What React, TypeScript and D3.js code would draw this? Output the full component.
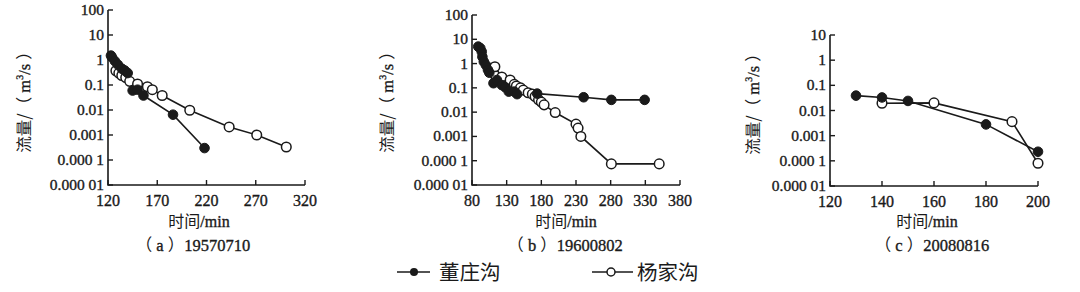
import React from "react";
import * as d3 from "d3";

// ---------- data ----------
const seriesNames = ["董庄沟", "杨家沟"];
const yTickValues = [1e-5, 1e-4, 1e-3, 1e-2, 1e-1, 1, 10, 100];
const yTickLabels = ["0.000 01", "0.000 1", "0.001", "0.01", "0.1", "1", "10", "100"];

// (a) 19570710
const aTicksX = [120, 170, 220, 270, 320];
const aDongTime = [123, 124, 127, 130, 134, 137, 140, 145, 150, 156, 186, 218];
const aDongQ = [1.5, 1.3, 0.9, 0.65, 0.45, 0.38, 0.3, 0.06, 0.065, 0.038, 0.0065, 0.0003];
const aYangTime = [128, 131, 134, 138, 142, 150, 160, 165, 175, 203, 243, 271, 301];
const aYangQ = [0.37, 0.3, 0.24, 0.2, 0.14, 0.11, 0.085, 0.065, 0.038, 0.0098, 0.0021, 0.001, 0.00033];

// (b) 19600802
const bTicksX = [80, 130, 180, 230, 280, 330, 380];
const bDongTime = [89, 92, 94, 95, 97, 100, 103, 105, 111, 116, 123, 128, 133, 141, 145, 174, 241, 281, 329];
const bDongQ = [5.0, 4.3, 3.1, 1.9, 1.2, 0.87, 0.55, 0.42, 0.155, 0.21, 0.13, 0.105, 0.07, 0.07, 0.055, 0.058, 0.041, 0.032, 0.032];
const bYangTime = [113, 123, 135, 141, 144, 150, 154, 161, 167, 171, 176, 180, 184, 200, 230, 233, 237, 281, 350];
const bYangQ = [0.74, 0.28, 0.21, 0.14, 0.12, 0.1, 0.081, 0.063, 0.055, 0.044, 0.032, 0.026, 0.02, 0.0096, 0.0032, 0.0022, 0.001, 0.000074, 0.000074];

// (c) 20080816
const cTicksX = [120, 140, 160, 180, 200];
const cDongTime = [130, 140, 150, 180, 200];
const cDongQ = [0.039, 0.033, 0.024, 0.0028, 0.00023];
const cYangTime = [140, 160, 190, 200];
const cYangQ = [0.0195, 0.02, 0.0036, 0.00008];

type Panel = {
  letter: string;
  date: string;
  xDomain: [number, number];
  xRange: [number, number];
  yDomain: [number, number];
  yRange: [number, number];
  xTicks: number[];
  dong: [number[], number[]];
  yang: [number[], number[]];
  yTitleX: number;
  yTitleY: number;
  xTitleX: number;
  captionX: number;
};

const panels: Panel[] = [
  {
    letter: "a", date: "19570710",
    xDomain: [120, 320], xRange: [108, 305],
    yDomain: [1e-5, 100], yRange: [185, 10],
    xTicks: aTicksX, dong: [aDongTime, aDongQ], yang: [aYangTime, aYangQ],
    yTitleX: 24, yTitleY: 98, xTitleX: 199, captionX: 193,
  },
  {
    letter: "b", date: "19600802",
    xDomain: [80, 380], xRange: [472, 680],
    yDomain: [1e-5, 100], yRange: [185, 15],
    xTicks: bTicksX, dong: [bDongTime, bDongQ], yang: [bYangTime, bYangQ],
    yTitleX: 387, yTitleY: 98, xTitleX: 566, captionX: 565,
  },
  {
    letter: "c", date: "20080816",
    xDomain: [120, 200], xRange: [830, 1038],
    yDomain: [1e-5, 10], yRange: [186, 35],
    xTicks: cTicksX, dong: [cDongTime, cDongQ], yang: [cYangTime, cYangQ],
    yTitleX: 753, yTitleY: 100, xTitleX: 927, captionX: 932,
  },
];

const NUM_FONT = "'Liberation Serif', serif";
const CJK = "'Noto Sans CJK SC', sans-serif";
const INK = "#1a1a1a";
const numStyle = (size: number) => ({ fontFamily: NUM_FONT, fontSize: `${size}px`, stroke: INK, strokeWidth: 0.35 });
const cjkStyle = { fontFamily: CJK, stroke: "none" };

function PanelView({ p }: { p: Panel }) {
  const x = d3.scaleLinear().domain(p.xDomain).range(p.xRange);
  const y = d3.scaleLog().domain(p.yDomain).range(p.yRange);
  const line = d3
    .line<[number, number]>()
    .x((d) => x(d[0]))
    .y((d) => y(d[1]));
  const dongPts: [number, number][] = p.dong[0].map((t, i) => [t, p.dong[1][i]]);
  const yangPts: [number, number][] = p.yang[0].map((t, i) => [t, p.yang[1][i]]);
  const yTicks = yTickValues.filter((v) => v >= p.yDomain[0] - 1e-12 && v <= p.yDomain[1] * 1.0001);
  const [x0, x1] = p.xRange;
  const yb = y(p.yDomain[0]);
  const yt = y(p.yDomain[1]);
  return (
    <g>
      <path d={`M${x0},${yt}V${yb}H${x1}`} fill="none" stroke={INK} strokeWidth={1.6} />
      {yTicks.map((v, i) => (
        <g key={"yt" + i}>
          <line x1={x0} x2={x0 + 5} y1={y(v)} y2={y(v)} stroke={INK} strokeWidth={1.4} />
          <text x={x0 - 4} y={y(v) + 5} textAnchor="end" style={numStyle(15.5)} fill={INK}>
            {yTickLabels[yTickValues.indexOf(v)]}
          </text>
        </g>
      ))}
      {p.xTicks.map((v, i) => (
        <g key={"xt" + i}>
          <line x1={x(v)} x2={x(v)} y1={yb} y2={yb - 5} stroke={INK} strokeWidth={1.4} />
          <text x={x(v)} y={yb + 21} textAnchor="middle" style={numStyle(16)} fill={INK}>
            {v}
          </text>
        </g>
      ))}
      <text x={p.xTitleX} y={227} textAnchor="middle" style={numStyle(16)} fill={INK}>
        <tspan style={cjkStyle}>时间</tspan>
        <tspan>/min</tspan>
      </text>
      <g style={{ opacity: 0.999 }}>
        <text
          transform={`translate(${p.yTitleX + 6},${p.yTitleY}) rotate(-90)`}
          textAnchor="middle"
          style={{ ...numStyle(16.5), textRendering: "geometricPrecision" }}
          fill={INK}
        >
          <tspan style={cjkStyle}>流量/（</tspan>
          <tspan>{" m"}</tspan>
          <tspan style={{ fontSize: "10px" }} dy="-7">3</tspan>
          <tspan dy="7">{"/s "}</tspan>
          <tspan style={cjkStyle}>）</tspan>
        </text>
      </g>
      <text x={p.captionX} y={251} textAnchor="middle" style={numStyle(16.5)} fill={INK}>
        <tspan style={cjkStyle}>（</tspan>
        <tspan>{" " + p.letter + " "}</tspan>
        <tspan style={cjkStyle}>）</tspan>
        <tspan>{p.date}</tspan>
      </text>
      <path d={line(dongPts) || ""} fill="none" stroke={INK} strokeWidth={1.6} />
      <path d={line(yangPts) || ""} fill="none" stroke={INK} strokeWidth={1.6} />
      {yangPts.map((d, i) => (
        <circle key={"y" + i} cx={x(d[0])} cy={y(d[1])} r={4.8} fill="#fff" stroke={INK} strokeWidth={1.5} />
      ))}
      {dongPts.map((d, i) => (
        <circle key={"d" + i} cx={x(d[0])} cy={y(d[1])} r={4.8} fill={INK} stroke={INK} strokeWidth={1} />
      ))}
    </g>
  );
}

export default function App() {
  const legendY = 272;
  return (
    <svg width={1080} height={292} style={{ display: "block", position: "absolute", left: 0, top: 0 }}>
      <rect width={1080} height={292} fill="#fff" />
      {panels.map((p, i) => (
        <PanelView key={i} p={p} />
      ))}
      <g>
        <line x1={397} x2={430} y1={legendY} y2={legendY} stroke={INK} strokeWidth={1.6} />
        <circle cx={414} cy={legendY} r={4} fill={INK} />
        <text x={439} y={legendY + 7.5} style={{ fontFamily: CJK, fontSize: "20.5px" }} fill={INK}>
          {seriesNames[0]}
        </text>
        <line x1={592} x2={633} y1={legendY} y2={legendY} stroke={INK} strokeWidth={1.6} />
        <circle cx={611} cy={legendY} r={4} fill="#fff" stroke={INK} strokeWidth={1.5} />
        <text x={637} y={legendY + 7.5} style={{ fontFamily: CJK, fontSize: "20.5px" }} fill={INK}>
          {seriesNames[1]}
        </text>
      </g>
    </svg>
  );
}
